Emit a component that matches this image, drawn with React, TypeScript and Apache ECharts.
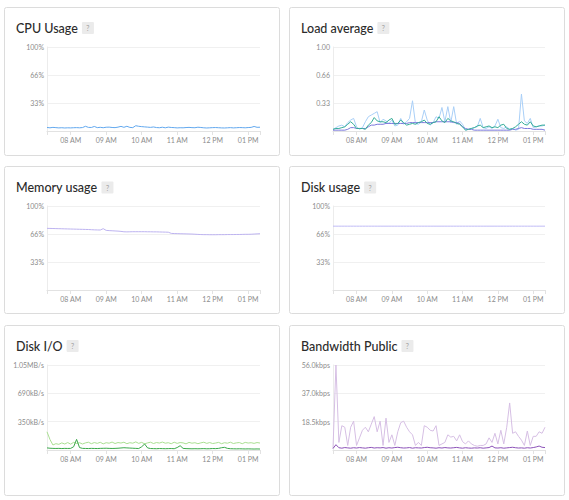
import React, { useEffect, useRef } from "react";
import * as echarts from "echarts";

// Sample times, every 5 minutes from 07:20 to 13:20
const times: string[] = [];
for (let m = 7 * 60 + 20; m <= 13 * 60 + 20; m += 5) {
  times.push(`${String(Math.floor(m / 60)).padStart(2, "0")}:${String(m % 60).padStart(2, "0")}`);
}

const cpuUsage = [4.2, 3.8, 4.3, 4.0, 3.7, 3.9, 3.6, 3.8, 3.7, 3.9, 4.0, 3.8, 4.1, 5.6, 4.3, 4.2, 5.4, 4.0, 4.4, 3.9, 4.5, 4.6, 4.2, 4.0, 4.6, 5.5, 4.4, 5.6, 4.3, 4.0, 6.3, 5.6, 5.2, 4.9, 4.6, 4.3, 4.8, 4.1, 3.9, 4.5, 3.8, 4.6, 4.2, 4.0, 3.7, 3.9, 3.8, 4.1, 4.3, 4.0, 3.9, 4.5, 4.2, 3.8, 3.6, 3.8, 4.0, 4.1, 3.9, 3.7, 3.6, 3.8, 4.0, 3.7, 3.9, 4.1, 4.0, 3.8, 4.1, 4.3, 5.4, 4.4, 4.5];

const load1 = [0.02, 0.04, 0.06, 0.07, 0.05, 0.10, 0.13, 0.15, 0.05, 0.02, 0.04, 0.11, 0.17, 0.19, 0.21, 0.23, 0.10, 0.14, 0.12, 0.09, 0.13, 0.06, 0.07, 0.15, 0.08, 0.11, 0.15, 0.36, 0.09, 0.08, 0.11, 0.25, 0.13, 0.07, 0.10, 0.17, 0.15, 0.28, 0.11, 0.29, 0.10, 0.29, 0.08, 0.12, 0.08, 0.01, 0.02, 0.03, 0.04, 0.05, 0.15, 0.04, 0.03, 0.05, 0.03, 0.06, 0.14, 0.04, 0.03, 0.05, 0.02, 0.03, 0.01, 0.02, 0.44, 0.12, 0.09, 0.15, 0.04, 0.05, 0.06, 0.06, 0.07];
const load5 = [0.02, 0.03, 0.03, 0.04, 0.05, 0.08, 0.11, 0.08, 0.03, 0.03, 0.03, 0.02, 0.07, 0.10, 0.16, 0.12, 0.11, 0.11, 0.10, 0.13, 0.15, 0.08, 0.09, 0.13, 0.10, 0.07, 0.08, 0.09, 0.08, 0.10, 0.11, 0.13, 0.09, 0.08, 0.10, 0.11, 0.17, 0.12, 0.10, 0.15, 0.12, 0.11, 0.09, 0.08, 0.05, 0.01, 0.02, 0.03, 0.04, 0.06, 0.07, 0.04, 0.05, 0.06, 0.04, 0.05, 0.04, 0.07, 0.08, 0.03, 0.02, 0.03, 0.05, 0.08, 0.11, 0.08, 0.07, 0.11, 0.06, 0.05, 0.06, 0.07, 0.07];
const load15 = [0.01, 0.01, 0.01, 0.01, 0.01, 0.02, 0.04, 0.04, 0.03, 0.03, 0.03, 0.03, 0.05, 0.07, 0.07, 0.08, 0.08, 0.08, 0.09, 0.09, 0.09, 0.09, 0.09, 0.09, 0.09, 0.09, 0.10, 0.10, 0.10, 0.10, 0.10, 0.10, 0.10, 0.10, 0.10, 0.11, 0.11, 0.11, 0.11, 0.11, 0.11, 0.10, 0.10, 0.09, 0.05, 0.03, 0.02, 0.02, 0.01, 0.01, 0.01, 0.01, 0.01, 0.01, 0.01, 0.01, 0.01, 0.01, 0.01, 0.01, 0.01, 0.02, 0.02, 0.03, 0.04, 0.03, 0.03, 0.03, 0.02, 0.02, 0.02, 0.02, 0.01];

const memoryUsage = [73.4, 73.3, 73.2, 73.1, 73.0, 72.9, 72.8, 72.7, 72.6, 72.5, 72.4, 72.3, 72.2, 72.1, 72.0, 71.8, 71.6, 71.5, 71.4, 73.0, 71.0, 70.7, 70.5, 70.3, 70.1, 69.8, 69.3, 69.2, 69.3, 69.4, 69.4, 69.4, 69.4, 69.4, 69.3, 69.3, 69.2, 69.2, 69.1, 69.0, 68.9, 68.8, 67.4, 67.2, 67.1, 67.0, 66.9, 66.8, 66.7, 66.6, 66.4, 66.2, 66.0, 65.9, 65.9, 65.8, 65.8, 65.8, 65.9, 65.9, 65.9, 66.0, 66.0, 66.0, 66.1, 66.1, 66.2, 66.3, 66.3, 66.4, 66.6, 66.8, 67.0];

const diskUsage = [76, 76, 76, 76, 76, 76, 76, 76, 76, 76, 76, 76, 76, 76, 76, 76, 76, 76, 76, 76, 76, 76, 76, 76, 76, 76, 76, 76, 76, 76, 76, 76, 76, 76, 76, 76, 76, 76, 76, 76, 76, 76, 76, 76, 76, 76, 76, 76, 76, 76, 76, 76, 76, 76, 76, 76, 76, 76, 76, 76, 76, 76, 76, 76, 76, 76, 76, 76, 76, 76, 76, 76, 76];

// kB/s
const diskRead = [225, 130, 62, 78, 70, 88, 74, 92, 72, 95, 80, 90, 74, 88, 96, 78, 92, 82, 95, 76, 90, 84, 98, 80, 92, 86, 96, 78, 90, 84, 100, 82, 94, 76, 88, 96, 80, 92, 86, 98, 84, 90, 78, 96, 82, 92, 88, 76, 94, 84, 90, 78, 88, 96, 82, 92, 80, 86, 94, 78, 90, 84, 96, 80, 88, 92, 78, 94, 86, 90, 82, 92, 86];
const diskWrite = [26, 22, 20, 19, 20, 18, 20, 19, 20, 40, 131, 30, 20, 19, 18, 20, 19, 18, 20, 21, 22, 20, 19, 20, 22, 25, 28, 26, 24, 22, 20, 18, 40, 74, 26, 18, 17, 16, 18, 17, 16, 17, 18, 16, 30, 53, 20, 17, 16, 15, 16, 15, 16, 17, 15, 16, 18, 17, 20, 28, 33, 20, 16, 15, 14, 15, 14, 13, 14, 13, 12, 13, 12];

// kbps
const bandwidthIn = [1, 56, 5, 16, 15, 3, 15, 19, 3, 8, 13, 15, 12, 17, 22, 12, 19, 3, 21, 5, 10, 3, 12, 18, 19, 15, 12, 10, 3, 5, 3, 16, 15, 13, 12.5, 16, 3, 4, 5, 10, 8.5, 9, 6, 10, 5.5, 4, 6, 4, 3, 2.5, 3, 3, 4, 8, 5, 11, 4, 13, 4, 15, 31, 11, 12, 9, 6.5, 3, 12.5, 3, 9, 9, 12, 11, 15];
const bandwidthOut = [1, 3.5, 1.5, 1.2, 1.6, 1.4, 1.2, 1.5, 1.3, 1.6, 1.4, 1.2, 1.5, 1.7, 1.3, 1.5, 1.4, 1.6, 1.2, 1.5, 1.3, 1.6, 1.8, 1.5, 1.3, 1.4, 1.6, 1.2, 1.5, 1.4, 1.3, 1.6, 1.8, 1.5, 1.4, 1.2, 1.5, 1.3, 1.6, 1.4, 1.3, 1.5, 1.7, 1.4, 1.2, 1.5, 1.3, 1.2, 1.4, 1.3, 1.5, 1.2, 1.4, 1.6, 2.6, 1.4, 1.3, 1.5, 1.2, 1.4, 1.6, 1.8, 1.5, 1.3, 1.4, 1.2, 1.5, 1.3, 1.6, 2.0, 2.6, 1.8, 1.6];

const percentTicks = ["33%", "66%", "100%"];
const loadTicks = ["0.33", "0.66", "1.00"];
const ioTicks = ["350kB/s", "690kB/s", "1.05MB/s"];
const bandwidthTicks = ["18.5kbps", "37.0kbps", "56.0kbps"];

const titles = ["CPU Usage", "Load average", "Memory usage", "Disk usage", "Disk I/O", "Bandwidth Public"];

const FONT = "Lato, 'Open Sans', sans-serif";

function hourLabel(t: string) {
  const h = parseInt(t.slice(0, 2), 10);
  const suffix = h >= 12 ? "PM" : "AM";
  const h12 = h % 12 === 0 ? 12 : h % 12;
  return `${String(h12).padStart(2, "0")} ${suffix}`;
}

function measure(text: string, font: string) {
  const ctx = document.createElement("canvas").getContext("2d");
  if (!ctx) return text.length * 6.5;
  ctx.font = font;
  return ctx.measureText(text).width;
}

export default function App() {
  const ref = useRef<HTMLDivElement>(null);

  useEffect(() => {
    if (!ref.current) return;
    const chart = echarts.init(ref.current, undefined, { renderer: "svg" });

    const cards = [
      { x: 4.5, y: 7.5, w: 275, h: 148 },
      { x: 289.5, y: 7.5, w: 275, h: 148 },
      { x: 4.5, y: 166.5, w: 275, h: 147 },
      { x: 289.5, y: 166.5, w: 275, h: 147 },
      { x: 4.5, y: 325.5, w: 275, h: 170 },
      { x: 289.5, y: 325.5, w: 275, h: 170 },
    ];
    const titleY = [28, 28, 187.5, 187.5, 346, 346];
    const grids = [
      { left: 47, top: 47, width: 213, height: 84 },
      { left: 333, top: 47, width: 212, height: 84 },
      { left: 47, top: 206, width: 213, height: 84 },
      { left: 333, top: 206, width: 212, height: 84 },
      { left: 47, top: 365, width: 213, height: 85 },
      { left: 333, top: 365, width: 212, height: 85 },
    ];
    const yScales = [
      { max: 100, interval: 100 / 3, labels: percentTicks },
      { max: 1, interval: 1 / 3, labels: loadTicks },
      { max: 100, interval: 100 / 3, labels: percentTicks },
      { max: 100, interval: 100 / 3, labels: percentTicks },
      { max: 1050, interval: 350, labels: ioTicks },
      { max: 56, interval: 56 / 3, labels: bandwidthTicks },
    ];

    const titleFont = `500 12.5px ${FONT}`;
    const graphic: any[] = [];
    cards.forEach((c, i) => {
      graphic.push({
        type: "rect",
        silent: true,
        z: -10,
        shape: { x: c.x, y: c.y, width: c.w, height: c.h, r: 2 },
        style: { fill: "#ffffff", stroke: "#dcdcdc", lineWidth: 1 },
      });
      const tx = c.x + 11.5;
      graphic.push({
        type: "text",
        x: tx,
        y: titleY[i],
        style: {
          text: titles[i],
          font: titleFont,
          fill: "#2b2b2b",
          textVerticalAlign: "middle",
        },
      });
      const bx = tx + measure(titles[i], titleFont) + 4;
      graphic.push({
        type: "rect",
        shape: { x: bx, y: titleY[i] - 6, width: 12, height: 12, r: 1 },
        style: { fill: "#ebebeb" },
      });
      graphic.push({
        type: "text",
        x: bx + 6,
        y: titleY[i],
        style: {
          text: "?",
          font: `7px ${FONT}`,
          fill: "#a0a0a0",
          textAlign: "center",
          textVerticalAlign: "middle",
        },
      });
    });

    const last = times.length - 1;
    const xAxis = grids.map((_, i) => ({
      type: "category",
      gridIndex: i,
      data: times,
      boundaryGap: false,
      axisLine: { lineStyle: { color: "#e2e2e2", width: 1 } },
      axisTick: {
        length: 4,
        interval: (idx: number, v: string) => idx === 0 || idx === last || v.endsWith(":00"),
        lineStyle: { color: "#e2e2e2" },
      },
      axisLabel: {
        interval: (_idx: number, v: string) => v.endsWith(":00"),
        formatter: (v: string) => hourLabel(v),
        fontSize: 7,
        fontFamily: FONT,
        color: "#8c8c8c",
        margin: 5,
      },
      splitLine: { show: false },
    }));

    const yAxis = yScales.map((s, i) => ({
      type: "value",
      gridIndex: i,
      min: 0,
      max: s.max,
      interval: s.interval,
      axisLine: { show: true, lineStyle: { color: "#ececec" } },
      axisTick: { show: false },
      axisLabel: {
        fontSize: 7,
        fontFamily: FONT,
        color: "#8c8c8c",
        margin: 3,
        formatter: (v: number) => {
          const k = Math.round(v / s.interval);
          return k === 0 ? "" : s.labels[k - 1] ?? "";
        },
      },
      splitLine: { lineStyle: { color: "#f0f0f0", width: 1 } },
    }));

    const line = (gi: number, data: number[], color: string, z = 2) => ({
      type: "line",
      xAxisIndex: gi,
      yAxisIndex: gi,
      data,
      symbol: "none",
      smooth: false,
      z,
      lineStyle: { color, width: 1 },
    });

    const series = [
      line(0, cpuUsage, "#62a8ee"),
      line(1, load1, "#a9cff7", 2),
      line(1, load15, "#7b78dc", 3),
      line(1, load5, "#35ad98", 4),
      line(2, memoryUsage, "#bdb3f0"),
      line(3, diskUsage, "#c0bbf6"),
      line(4, diskRead, "#aadf92", 2),
      line(4, diskWrite, "#3aa84a", 3),
      line(5, bandwidthIn, "#d6bfe4", 2),
      line(5, bandwidthOut, "#8c52b8", 3),
    ];

    chart.setOption({
      animation: false,
      backgroundColor: "#ffffff",
      grid: grids,
      xAxis,
      yAxis,
      series,
      graphic,
    });

    return () => chart.dispose();
  }, []);

  return (
    <div
      ref={ref}
      style={{ position: "absolute", left: 0, top: 0, width: 569, height: 500 }}
    />
  );
}
